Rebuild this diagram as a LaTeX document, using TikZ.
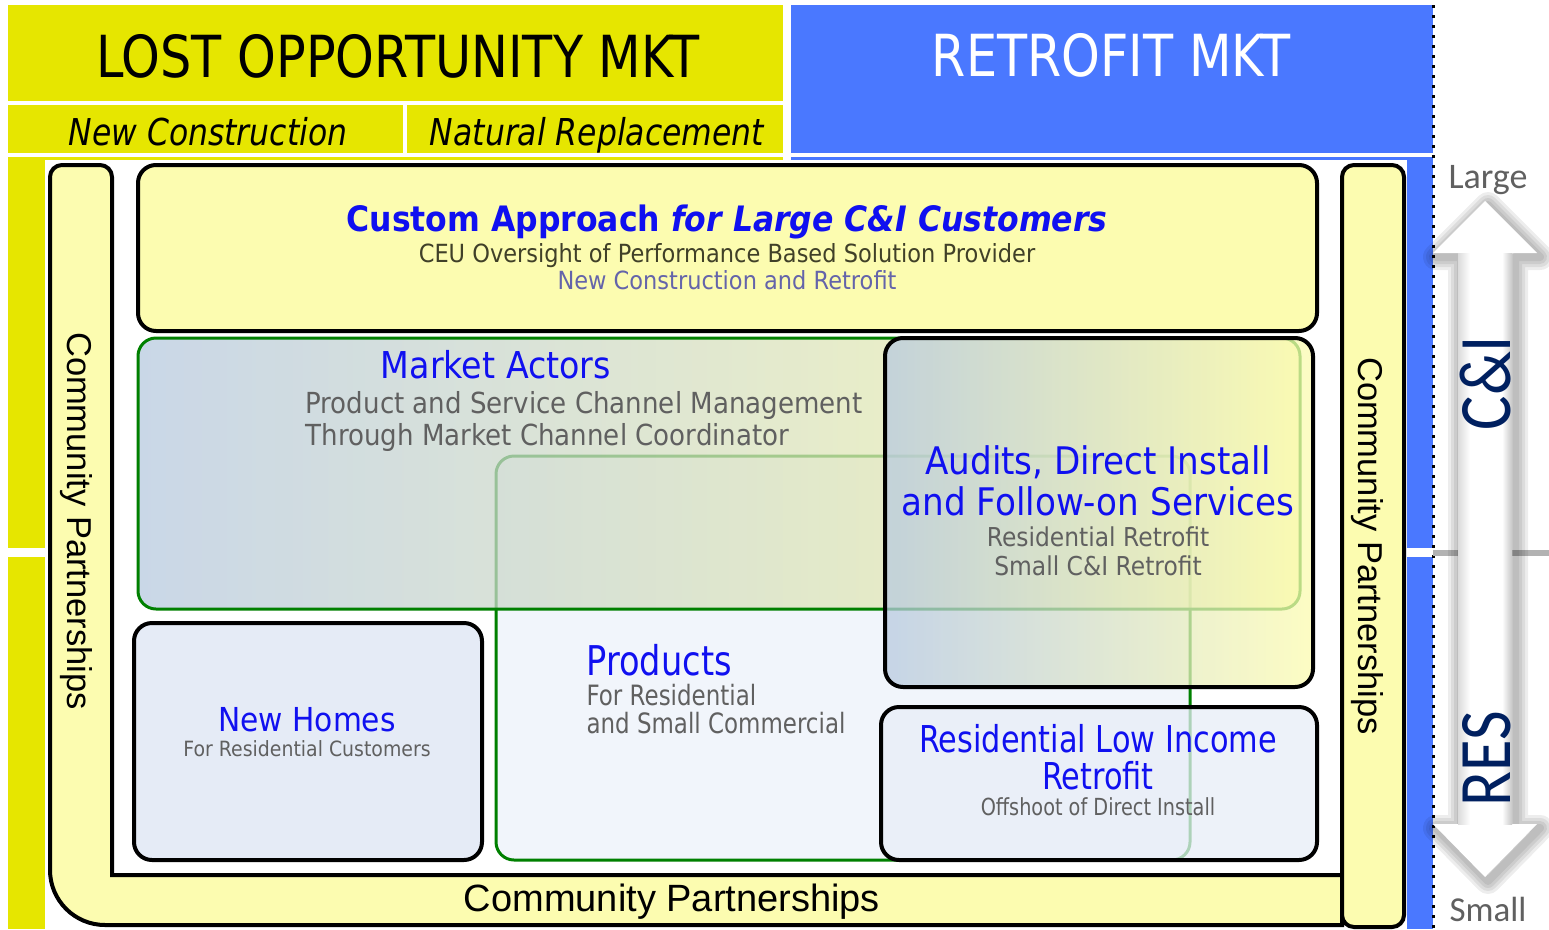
\documentclass[tikz,border=0pt]{standalone}
\usepackage{fontspec}
\setmainfont{DejaVu Sans}
\newfontfamily\boxfont[FakeStretch=0.9]{DejaVu Sans}
\newfontfamily\condfont[FakeStretch=0.85]{DejaVu Sans}
\newfontfamily\narrowfont[FakeStretch=0.82]{DejaVu Sans}
\newfontfamily\arialfont{Liberation Sans}
\newfontfamily\calfont{Carlito}
\newfontfamily\navyfont[FakeStretch=0.87]{Carlito}
\newcommand\fsz[1]{\fontsize{#1}{#1}\selectfont}
\usetikzlibrary{calc}

\definecolor{mktyellow}{RGB}{230,230,0}
\definecolor{mktblue}{RGB}{74,120,255}
\definecolor{paleyellow}{RGB}{252,252,176}
\definecolor{paleblue}{RGB}{232,238,248}
\definecolor{homesblue}{RGB}{229,235,246}
\definecolor{greyblue}{RGB}{184,202,224}
\definecolor{lemon}{RGB}{248,248,160}
\definecolor{boxgreen}{RGB}{0,128,0}
\definecolor{txtblue}{RGB}{16,16,240}
\definecolor{txtgrey}{RGB}{96,96,96}
\definecolor{ceugrey}{RGB}{64,64,40}
\definecolor{slate}{RGB}{100,100,170}
\definecolor{navy}{RGB}{0,32,96}

\def\arrowpath{(1485,201) -- (1537,253) -- (1512,253) -- (1512,824) -- (1537,824) -- (1485,877) -- (1433,824) -- (1458,824) -- (1458,253) -- (1433,253) -- cycle}

\begin{document}
\begin{tikzpicture}[x=1pt,y=-1pt,
  box/.style={draw,line width=4pt,rounded corners=18pt,inner sep=0pt},
  greenbox/.style={box,draw=boxgreen,line width=3pt},
  head/.style={anchor=base,text=txtblue},
  sub/.style={anchor=base,text=txtgrey},
  partner/.style={font=\arialfont\fsz{#1}}
  ]
  \useasboundingbox (0,0) rectangle (1549,929);

  % market bands
  \fill[mktyellow] (8,5) rectangle (783,101);
  \foreach \xa/\xb in {8/403,407/783}
    \fill[mktyellow] (\xa,105) rectangle (\xb,153);
  \fill[mktblue] (791,5) rectangle (1433,153);
  \foreach \ya/\yb in {157/548,557/929} {
    \fill[mktyellow] (8,\ya) rectangle (783,\yb);
    \fill[mktblue] (791,\ya) rectangle (1433,\yb);
  }
  \fill[white] (45,160) rectangle (1407,929);
  \draw[line width=3pt,dash pattern=on 3pt off 7pt] (1433,5) -- (1433,929);

  \node[anchor=base,font=\condfont\fsz{58}] (lost) at (398,77) {LOST OPPORTUNITY MKT};
  \node[anchor=base,font=\condfont\fsz{58},text=white] (retro) at (1111,76) {RETROFIT MKT};
  \node[anchor=base,font=\condfont\itshape\fsz{37}] (newcons) at (208,145) {New Construction};
  \node[anchor=base,font=\condfont\itshape\fsz{37}] (natrep) at (597,145) {Natural Replacement};

  % community partnerships
  \draw[line width=4pt,fill=paleyellow] (1342,875) -- (112,875)
    [rounded corners=12pt] -- (112,165) -- (50,165)
    [rounded corners=55pt] -- (50,925) [sharp corners] -- (1342,925) -- cycle;
  \node[box,fill=paleyellow,rounded corners=12pt,minimum width=62pt,minimum height=762pt] (rightbar) at (1373,546) {};
  \node[partner=38,anchor=base] (cpbottom) at (672,911) {Community Partnerships};
  \node[partner=34.5,anchor=base,rotate=-90] (cpleft) at (67,521) {Community Partnerships};
  \node[partner=34.5,anchor=base,rotate=-90] (cpright) at (1358,546) {Community Partnerships};

  % boxes
  \node[box,fill=homesblue,minimum width=348pt,minimum height=237pt] (newhomes) at (308,741.5) {};
  \node[box,fill=paleyellow,minimum width=1179pt,minimum height=166pt] (custom) at (727.5,248) {};
  \node[greenbox,fill=paleblue!60!white,minimum width=694pt,minimum height=404pt] (products) at (843,658) {};
  \node[greenbox,left color=greyblue,right color=lemon,fill opacity=.75,minimum width=1162pt,minimum height=271pt] (actors) at (719,473.5) {};
  \node[box,left color=greyblue,right color=paleyellow,fill opacity=.75,minimum width=428pt,minimum height=349pt] (audits) at (1099,512.5) {};
  \node[box,fill=paleblue,fill opacity=.75,minimum width=436pt,minimum height=153pt] (lowincome) at (1099,783.5) {};

  % texts
  \node[head,font=\boxfont\bfseries\fsz{35}] (customt) at (727,231) {Custom Approach \textit{for Large C\&I Customers}};
  \node[anchor=base,text=ceugrey,font=\boxfont\fsz{25}] (ceu) at (727,262) {CEU Oversight of Performance Based Solution Provider};
  \node[anchor=base,text=slate,font=\boxfont\fsz{25}] (ncr) at (727,289) {New Construction and Retrofit};

  \node[head,font=\boxfont\fsz{37}] (actorst) at (496,378) {Market Actors};
  \foreach \t/\y [count=\i] in {Product and Service Channel Management/413,Through Market Channel Coordinator/445}
    \node[sub,anchor=base west,font=\boxfont\fsz{29}] (actors\i) at (302,\y) {\t};

  \foreach \t/\y [count=\i] in {{Audits, Direct Install}/474,and Follow-on Services/515}
    \node[head,font=\boxfont\fsz{38}] (auditst\i) at (1098,\y) {\t};
  \foreach \t/\y [count=\i] in {Residential Retrofit/546,Small C\&I Retrofit/575}
    \node[sub,font=\boxfont\fsz{26}] (audits\i) at (1098,\y) {\t};

  \node[head,font=\boxfont\fsz{33}] (newhomest) at (307,731) {New Homes};
  \node[sub,font=\boxfont\fsz{21}] (newhomes1) at (307,756) {For Residential Customers};

  \node[head,anchor=base west,font=\narrowfont\fsz{41}] (productst) at (583,675) {Products};
  \foreach \t/\y [count=\i] in {For Residential/705,and Small Commercial/733}
    \node[sub,anchor=base west,font=\narrowfont\fsz{28}] (products\i) at (583,\y) {\t};

  \foreach \t/\y [count=\i] in {Residential Low Income/752,Retrofit/789}
    \node[head,font=\narrowfont\fsz{37}] (lowincomet\i) at (1098,\y) {\t};
  \node[sub,font=\narrowfont\fsz{23.5}] (lowincome1) at (1098,815) {Offshoot of Direct Install};

  % size arrow
  \draw[line width=6pt,black!30] (1433,553) -- (1549,553);
  \foreach \w in {26,20,14,8}
    \draw[black,opacity=.07,line width=\w pt,line join=round,shift={(3,4)}] \arrowpath;
  \fill[white] \arrowpath;
  \fill[left color=black!14,right color=white] (1458,253) rectangle (1470,824);
  \fill[left color=white,right color=black!22] (1502,253) rectangle (1512,824);
  \node[anchor=base,text=txtgrey,font=\calfont\fsz{36}] (large) at (1488,188) {Large};
  \node[anchor=base,text=txtgrey,font=\calfont\fsz{35}] (small) at (1488,921) {Small};
  \node[anchor=base,rotate=90,text=navy,font=\navyfont\fsz{74}] (ci) at (1510,383) {C\&I};
  \node[anchor=base,rotate=90,text=navy,font=\navyfont\fsz{74}] (res) at (1510,759) {RES};
\end{tikzpicture}
\end{document}
